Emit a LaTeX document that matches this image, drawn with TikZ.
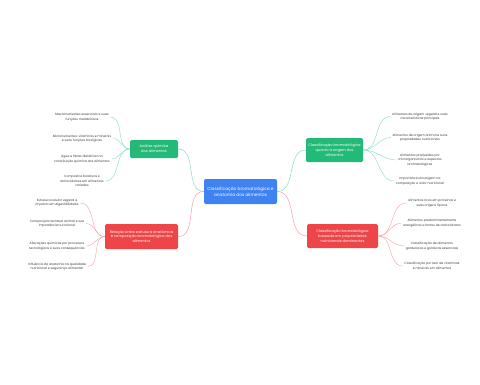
\documentclass[tikz,border=0pt]{standalone}
\usepackage{fontspec}
\setmainfont{Poppins}
\usetikzlibrary{positioning}
\definecolor{mapblue}{HTML}{3F83F2}
\definecolor{mapgreen}{HTML}{22BA76}
\definecolor{mapred}{HTML}{EE4548}
\definecolor{leafgreen}{HTML}{86DDB8}
\definecolor{leafred}{HTML}{F4A0A6}
\definecolor{leaftext}{HTML}{3A3A3A}

\begin{document}
\begin{tikzpicture}[
  x=1pt, y=-1pt,
  topic/.style={rounded corners=2pt, fill=mapblue, text=white, align=center,
    font=\fontsize{4.3}{5.8}\selectfont, minimum width=73pt, minimum height=25pt, inner sep=1pt},
  branch/.style={rounded corners=1.5pt, text=white, align=center,
    font=\fontsize{3.6}{4.8}\selectfont, inner sep=1pt},
  leaf/.style={align=center, text=leaftext, font=\fontsize{3.1}{4.5}\selectfont, inner sep=1.5pt},
  link/.style={line width=0.5pt},
  twig/.style={line width=0.4pt},
]
\useasboundingbox (0,0) rectangle (480,384);

%% Central topic
\node[topic] (root) at (240.5,191.5) {Classificação bromatológica e\\anatomia dos alimentos};

%% Main branches
\node[branch, fill=mapgreen, minimum width=48pt, minimum height=18pt] (chem) at (154,149)
  {Análise química\\dos alimentos};
\node[branch, fill=mapgreen, minimum width=57pt, minimum height=24pt] (orig) at (334.5,150)
  {Classificação bromatológica\\quanto à origem dos\\alimentos};
\node[branch, fill=mapred, minimum width=71pt, minimum height=24pt] (prop) at (342.5,236)
  {Classificação bromatológica\\baseada em propriedades\\nutricionais dominantes};
\node[branch, fill=mapred, minimum width=73pt, minimum height=25pt] (anat) at (141.5,236.5)
  {Relação entre estrutura anatômica\\e composição bromatológica dos\\alimentos};

\draw[link, leafgreen] (root.west) to[out=180, in=0] (chem.east);
\draw[link, leafgreen] (root.east) to[out=0, in=180] (orig.west);
\draw[link, leafred] (root.east) to[out=0, in=180] (prop.west);
\draw[link, leafred] (root.west) to[out=180, in=0] (anat.east);

%% Chemical analysis
\node[leaf] (chem1) at (82,117) {Macronutrientes essenciais e suas\\funções metabólicas};
\node[leaf] (chem2) at (82,138.5) {Micronutrientes: vitaminas e minerais\\e suas funções biológicas};
\node[leaf] (chem3) at (82,159) {Água e fibras dietéticas na\\constituição química dos alimentos};
\node[leaf] (chem4) at (82,181) {Compostos bioativos e\\antioxidantes em alimentos\\variados};

%% Origin
\node[leaf] (orig1) at (420,116.5) {Alimentos de origem vegetal e suas\\características principais};
\node[leaf] (orig2) at (420,137.5) {Alimentos de origem animal e suas\\propriedades nutricionais};
\node[leaf] (orig3) at (420,160) {Alimentos produzidos por\\microrganismos e aspectos\\bromatológicos};
\node[leaf] (orig4) at (420,181) {Importância da origem na\\composição e valor nutricional};

%% Nutritional properties
\node[leaf] (prop1) at (432,203) {Alimentos ricos em proteínas e\\suas origens típicas};
\node[leaf] (prop2) at (432,223) {Alimentos predominantemente\\energéticos e fontes de carboidratos};
\node[leaf] (prop3) at (432,246) {Classificação de alimentos\\gordurosos e gorduras essenciais};
\node[leaf] (prop4) at (432,266) {Classificação por teor de vitaminas\\e minerais em alimentos};

%% Anatomy
\node[leaf] (anat1) at (57,203) {Estrutura celular vegetal e\\impacto em digestibilidade};
\node[leaf] (anat2) at (57,223.5) {Composição tecidual animal e sua\\importância nutricional};
\node[leaf] (anat3) at (57,246) {Alterações químicas por processos\\tecnológicos e suas consequências};
\node[leaf] (anat4) at (57,266.5) {Influência da anatomia na qualidade\\nutricional e segurança alimentar};

\foreach \n in {1,...,4} {
  \draw[twig, leafgreen] (chem.west) to[out=180, in=0] (chem\n.east);
  \draw[twig, leafgreen] (orig.east) to[out=0, in=180] (orig\n.west);
  \draw[twig, leafred] (prop.east) to[out=0, in=180] (prop\n.west);
  \draw[twig, leafred] (anat.west) to[out=180, in=0] (anat\n.east);
}

\end{tikzpicture}
\end{document}
